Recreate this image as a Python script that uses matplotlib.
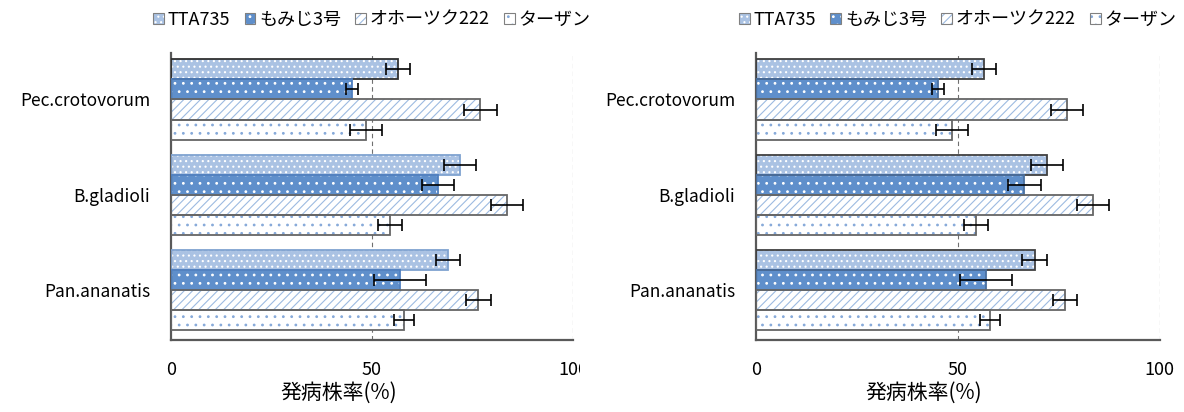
import numpy as np
import matplotlib.pyplot as plt
from matplotlib.patches import Patch
from matplotlib.transforms import Bbox

plt.rcParams['font.family'] = ['Noto Sans CJK JP', 'DejaVu Sans']
plt.rcParams['hatch.linewidth'] = 0.8

# 品種ごとの発病株率(%)と誤差
categories = ['Pec.crotovorum', 'B.gladioli', 'Pan.ananatis']
varieties = ['TTA735', 'もみじ3号', 'オホーツク222', 'ターザン']
rate_tta = [56.5, 72, 69]
rate_momiji = [45, 66.5, 57]
rate_okhotsk = [77, 83.5, 76.5]
rate_tarzan = [48.5, 54.5, 58]
err_tta = [3, 4, 3]
err_momiji = [1.5, 4, 6.5]
err_okhotsk = [4, 4, 3]
err_tarzan = [4, 3, 2.5]
xticks = [0, 50, 100]

rates = [rate_tta, rate_momiji, rate_okhotsk, rate_tarzan]
errs = [err_tta, err_momiji, err_okhotsk, err_tarzan]

# 塗りつぶし(地色, ハッチ色, ハッチ)
styles = [
    ('#aac2e3', 'white', '...'),
    ('#5f8fcb', 'white', '..'),
    ('white', '#9dbbe1', '////'),
    ('white', '#86a9d9', '..'),
]
outline_left = ['#7fa2d0', '#4f7fbf', '#666666', '#666666']
outline_right = ['#404040', '#4a6f9f', '#666666', '#666666']

fig = plt.figure(figsize=(11.84, 4.12), dpi=100)
ax1 = fig.add_axes([0.1444, 0.175, 0.3395, 0.697])
ax2 = fig.add_axes([0.6385, 0.175, 0.341, 0.697])

h = 0.21
y = np.arange(len(categories))

for ax, outlines in [(ax1, outline_left), (ax2, outline_right)]:
    for j in range(4):
        pos = y + (j - 1.5) * h
        face, hc, hatch = styles[j]
        ax.barh(pos, rates[j], height=h, color=face, edgecolor=hc,
                hatch=hatch, linewidth=0, zorder=2)
        ec = [outlines[j]] * 3
        if ax is ax1 and j == 0:
            ec[0] = '#303030'
        ax.barh(pos, rates[j], height=h, fill=False, edgecolor=ec,
                linewidth=1.3, zorder=3)
        ax.errorbar(rates[j], pos, xerr=errs[j], fmt='none', ecolor='black',
                    elinewidth=1.2, capsize=4, capthick=1.2, zorder=4)

    for v in [50, 100]:
        ax.axvline(v, color='#707070', linestyle=(0, (4, 3)), linewidth=0.8,
                   zorder=1)
    ax.set_xlim(0, 100)
    ax.set_ylim(2.52, -0.49)
    ax.set_yticks(y)
    ax.set_yticklabels(categories, fontsize=12.5)
    ax.set_xticks(xticks)
    ax.set_xticklabels([str(t) for t in xticks], fontsize=13)
    ax.tick_params(axis='both', length=0)
    ax.tick_params(axis='x', pad=15)
    ax.tick_params(axis='y', pad=15)
    for s in ['top', 'right']:
        ax.spines[s].set_visible(False)
    for s in ['left', 'bottom']:
        ax.spines[s].set_color('#595959')
        ax.spines[s].set_linewidth(1.6)
    ax.set_xlabel('発病株率(%)', fontsize=15)
    ax.xaxis.set_label_coords(0.416, -0.145)

    # 凡例の色見本: 塗り+枠線を重ねる
    handles = [(Patch(facecolor=f, edgecolor=c, hatch=ht, linewidth=0),
                Patch(fill=False, edgecolor='#808080', linewidth=0.8))
               for f, c, ht in styles]
    ax.legend(handles, varieties, loc='center',
              bbox_to_anchor=(0.5, 1.115), ncol=4, frameon=False,
              fontsize=13, handlelength=0.6, handleheight=0.6,
              handletextpad=0.2, columnspacing=0.8, borderaxespad=0)

# 左図の右端で目盛ラベルを切る
fig.canvas.draw()
clip = Bbox.from_extents(0, 0, 580, 412)
for t in ax1.get_xticklabels():
    t.set_clip_on(True)
    t.set_clip_box(clip)

fig.savefig('out.png', dpi=100)
